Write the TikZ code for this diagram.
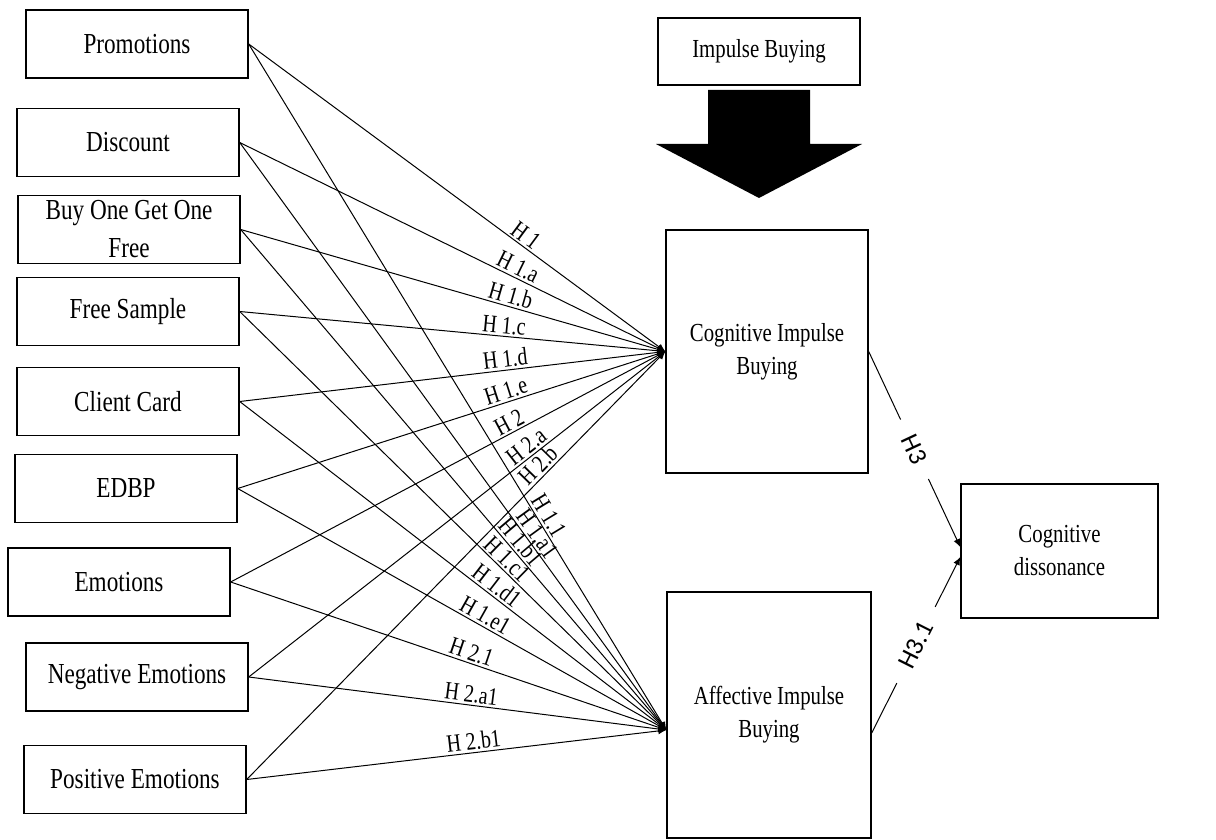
\documentclass[tikz,border=0pt]{standalone}
\usepackage{fontspec}
\setmainfont{Liberation Serif}[FakeStretch=0.8]
\newfontfamily\hsans{Carlito}
\usetikzlibrary{arrows.meta,positioning}
\newcommand{\boxfont}{\fontsize{14.5}{19}\selectfont}
\newcommand{\bigfont}{\fontsize{13}{16.5}\selectfont}
\newcommand{\hypfont}{\fontsize{12.5}{14}\selectfont}
\newcommand{\hthree}{\hsans\fontsize{13}{14}\selectfont}

\begin{document}
\begin{tikzpicture}[
    x=0.5pt, y=-0.5pt,
    box/.style={rectangle,draw,line width=0.7pt,minimum width=111pt,
      minimum height=34pt,inner sep=0pt,align=center,font=\boxfont},
    bigbox/.style={rectangle,draw,line width=0.7pt,inner sep=0pt,
      align=center,font=\bigfont},
    link/.style={-{Latex[length=4pt,width=3.5pt]},line width=0.5pt},
    hyp/.style={sloped,above,inner sep=1pt,font=\hypfont},
    gap/.style={sloped,fill=white,inner xsep=9pt,inner ysep=1pt,font=\hthree}
  ]
    \useasboundingbox (0,0) rectangle (1216,840);

    % predictors
    \node[box] (promo) at (137,44) {Promotions};
    \node[box] (disc) at (128,142.5) {Discount};
    \node[box] (bogof) at (129,229.5) {Buy One Get One\\Free};
    \node[box] (sample) at (128,311.5) {Free Sample};
    \node[box] (card) at (128,401.5) {Client Card};
    \node[box] (edbp) at (126,488.5) {EDBP};
    \node[box] (emo) at (119,582) {Emotions};
    \node[box] (negemo) at (137,677) {Negative Emotions};
    \node[box] (posemo) at (135,779.5) {Positive Emotions};

    % outcomes
    \node[bigbox,minimum width=101pt,minimum height=33.5pt] (impulse) at (759,51.5) {Impulse Buying};
    \node[bigbox,minimum width=101pt,minimum height=121.5pt] (cog) at (767,351.5) {Cognitive Impulse\\Buying};
    \node[bigbox,minimum width=102pt,minimum height=123pt] (aff) at (769,715) {Affective Impulse\\Buying};
    \node[bigbox,minimum width=98.5pt,minimum height=67pt] (dis) at (1059.5,551) {Cognitive\\dissonance};

    \coordinate (affin) at ([yshift=-7.5pt]aff.west);

    % block arrow
    \fill (708,90) -- (810,90) -- (810,144) -- (862,144) -- (759,198)
      -- (656,144) -- (708,144) -- cycle;

    % to cognitive impulse buying
    \draw[link] (promo.east) -- node[hyp,pos=0.65] {H 1} (cog.west);
    \draw[link] (disc.east) -- node[hyp,pos=0.643] {H 1.a} (cog.west);
    \draw[link] (bogof.east) -- node[hyp,pos=0.629] {H 1.b} (cog.west);
    \draw[link] (sample.east) -- node[hyp,pos=0.619] {H 1.c} (cog.west);
    \draw[link] (card.east) -- node[hyp,pos=0.627] {H 1.d} (cog.west);
    \draw[link] (edbp.east) -- node[hyp,pos=0.635] {H 1.e} (cog.west);
    \draw[link] (emo.east) -- node[hyp,pos=0.652] {H 2} (cog.west);
    \draw[link] (negemo.east) -- node[hyp,pos=0.682] {H 2.a} (cog.west);
    \draw[link] (posemo.east) -- node[hyp,pos=0.716] {H 2.b} (cog.west);

    % to affective impulse buying
    \draw[link] (promo.east) -- node[hyp,pos=0.696] {H 1.1} (affin);
    \draw[link] (disc.east) -- node[hyp,pos=0.677] {H 1.a1} (affin);
    \draw[link] (bogof.east) -- node[hyp,pos=0.639] {H 1.b1} (affin);
    \draw[link] (sample.east) -- node[hyp,pos=0.61] {H 1.c1} (affin);
    \draw[link] (card.east) -- node[hyp,pos=0.587] {H 1.d1} (affin);
    \draw[link] (edbp.east) -- node[hyp,pos=0.565] {H 1.e1} (affin);
    \draw[link] (emo.east) -- node[hyp,pos=0.545] {H 2.1} (affin);
    \draw[link] (negemo.east) -- node[hyp,pos=0.53] {H 2.a1} (affin);
    \draw[link] (posemo.east) -- node[hyp,pos=0.544] {H 2.b1} (affin);

    % to cognitive dissonance
    \draw[link] (cog.east) -- node[gap] {H3} ([yshift=2pt]dis.west);
    \draw[link] ([yshift=-9pt]aff.east) -- node[gap] {H3.1} ([yshift=-3pt]dis.west);
  \end{tikzpicture}
\end{document}
